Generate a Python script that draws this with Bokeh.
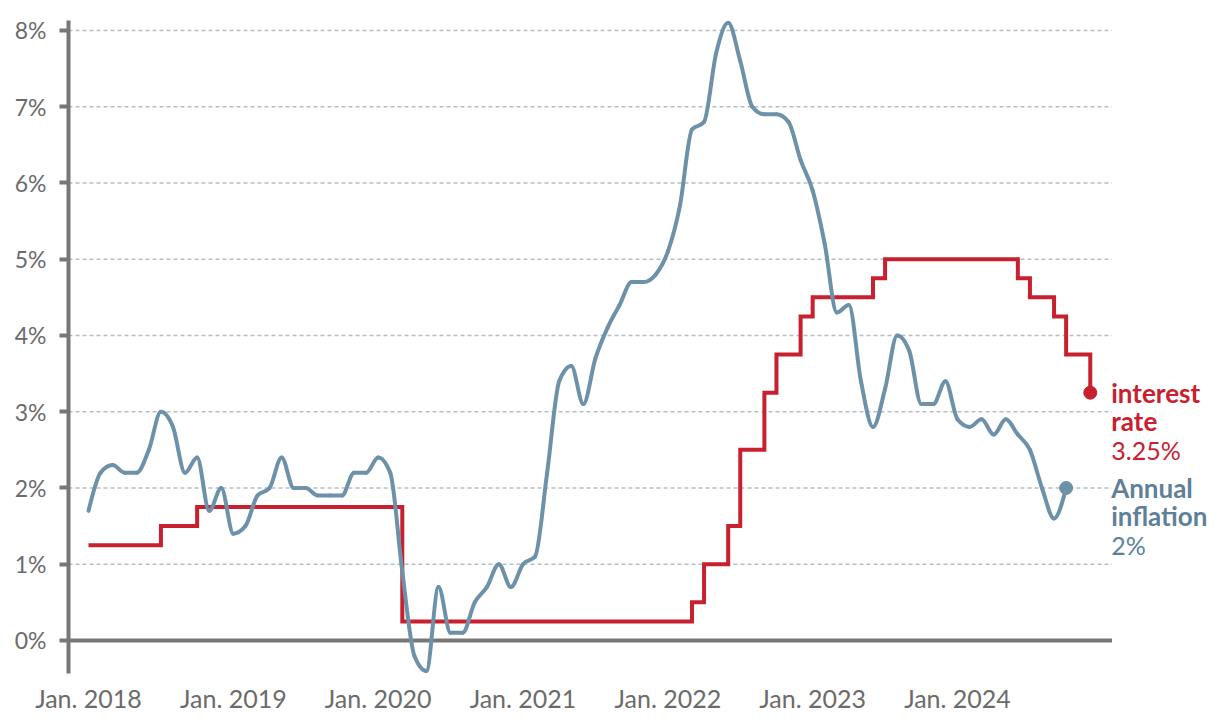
from bokeh.plotting import figure
from bokeh.models import Range1d, FixedTicker, Label
from bokeh.embed import file_html
from bokeh.resources import INLINE

# ---- data (monthly, index 0 = Jan. 2018) ----
inflation = [
    1.7, 2.2, 2.3, 2.2, 2.2, 2.5, 3.0, 2.8, 2.2, 2.4, 1.7, 2.0,   # 2018
    1.4, 1.5, 1.9, 2.0, 2.4, 2.0, 2.0, 1.9, 1.9, 1.9, 2.2, 2.2,   # 2019
    2.4, 2.2, 0.9, -0.2, -0.4, 0.7, 0.1, 0.1, 0.5, 0.7, 1.0, 0.7, # 2020
    1.0, 1.1, 2.2, 3.4, 3.6, 3.1, 3.7, 4.1, 4.4, 4.7, 4.7, 4.8,   # 2021
    5.1, 5.7, 6.7, 6.8, 7.7, 8.1, 7.6, 7.0, 6.9, 6.9, 6.8, 6.3,   # 2022
    5.9, 5.2, 4.3, 4.4, 3.4, 2.8, 3.3, 4.0, 3.8, 3.1, 3.1, 3.4,   # 2023
    2.9, 2.8, 2.9, 2.7, 2.9, 2.7, 2.5, 2.0, 1.6, 2.0,             # 2024
]
interest_rate = [
    1.25, 1.25, 1.25, 1.25, 1.25, 1.25, 1.5, 1.5, 1.5, 1.75, 1.75, 1.75,          # 2018
    1.75, 1.75, 1.75, 1.75, 1.75, 1.75, 1.75, 1.75, 1.75, 1.75, 1.75, 1.75,       # 2019
    1.75, 1.75, 0.25, 0.25, 0.25, 0.25, 0.25, 0.25, 0.25, 0.25, 0.25, 0.25,       # 2020
    0.25, 0.25, 0.25, 0.25, 0.25, 0.25, 0.25, 0.25, 0.25, 0.25, 0.25, 0.25,       # 2021
    0.25, 0.25, 0.5, 1.0, 1.0, 1.5, 2.5, 2.5, 3.25, 3.75, 3.75, 4.25,             # 2022
    4.5, 4.5, 4.5, 4.5, 4.5, 4.75, 5.0, 5.0, 5.0, 5.0, 5.0, 5.0,                  # 2023
    5.0, 5.0, 5.0, 5.0, 5.0, 4.75, 4.5, 4.5, 4.25, 3.75, 3.75, 3.25,              # 2024
]
x_ticks = [0, 12, 24, 36, 48, 60, 72]
x_tick_labels = ["Jan. 2018", "Jan. 2019", "Jan. 2020", "Jan. 2021",
                 "Jan. 2022", "Jan. 2023", "Jan. 2024"]
y_ticks = [0, 1, 2, 3, 4, 5, 6, 7, 8]
y_tick_labels = ["0%", "1%", "2%", "3%", "4%", "5%", "6%", "7%", "8%"]
rate_label = ["interest", "rate", "3.25%"]
infl_label = ["Annual", "inflation", "2%"]

infl_x = list(range(len(inflation)))
rate_x = list(range(len(interest_rate)))

RED = "#c8202f"
BLUE = "#6e91aa"
BLUE_TXT = "#5e8199"
GREY = "#777777"
FONT = "Lato"

X_START, X_END = -1.657, 93.79   # visible month range
GRID_END = 84.8                  # where grid lines / baseline stop

# ---- monotone-x cubic control points (d3.curveMonotoneX) ----
def _sign(v):
    return -1.0 if v < 0 else 1.0

def monotone_beziers(xs, ys):
    n = len(xs)
    t = [0.0] * n
    for i in range(1, n - 1):
        h0 = xs[i] - xs[i - 1]
        h1 = xs[i + 1] - xs[i]
        s0 = (ys[i] - ys[i - 1]) / h0
        s1 = (ys[i + 1] - ys[i]) / h1
        p_ = (s0 * h1 + s1 * h0) / (h0 + h1)
        t[i] = (_sign(s0) + _sign(s1)) * min(abs(s0), abs(s1), 0.5 * abs(p_))
    h = xs[1] - xs[0]
    t[0] = (3 * (ys[1] - ys[0]) / h - t[1]) / 2
    h = xs[-1] - xs[-2]
    t[-1] = (3 * (ys[-1] - ys[-2]) / h - t[-2]) / 2
    seg = dict(x0=[], y0=[], x1=[], y1=[], cx0=[], cy0=[], cx1=[], cy1=[])
    for i in range(n - 1):
        dx = (xs[i + 1] - xs[i]) / 3
        seg["x0"].append(xs[i]); seg["y0"].append(ys[i])
        seg["x1"].append(xs[i + 1]); seg["y1"].append(ys[i + 1])
        seg["cx0"].append(xs[i] + dx); seg["cy0"].append(ys[i] + dx * t[i])
        seg["cx1"].append(xs[i + 1] - dx); seg["cy1"].append(ys[i + 1] - dx * t[i + 1])
    return seg

# ---- figure ----
p = figure(width=1220, height=722, output_backend="svg", toolbar_location=None,
           x_range=Range1d(X_START, X_END), y_range=Range1d(-0.433, 8.131),
           min_border_left=68, min_border_right=0, min_border_top=20,
           min_border_bottom=49)
p.outline_line_color = None
p.background_fill_color = "white"
p.border_fill_color = "white"

# y axis
p.yaxis.ticker = FixedTicker(ticks=y_ticks)
p.yaxis.major_label_overrides = {t: l for t, l in zip(y_ticks, y_tick_labels)}
p.yaxis.axis_line_color = GREY
p.yaxis.axis_line_width = 4
p.yaxis.major_tick_line_color = GREY
p.yaxis.major_tick_line_width = 4
p.yaxis.major_tick_out = 9
p.yaxis.major_tick_in = 0
p.yaxis.minor_tick_line_color = None
p.yaxis.major_label_standoff = 13
p.yaxis.major_label_text_font = FONT
p.yaxis.major_label_text_font_size = "23px"
p.yaxis.major_label_text_color = "#6b6b6b"

# x axis
p.xaxis.ticker = FixedTicker(ticks=x_ticks)
p.xaxis.major_label_overrides = {t: l for t, l in zip(x_ticks, x_tick_labels)}
p.xaxis.axis_line_color = None
p.xaxis.major_tick_line_color = None
p.xaxis.minor_tick_line_color = None
p.xaxis.major_tick_out = 0
p.xaxis.major_tick_in = 0
p.xaxis.major_label_standoff = 9
p.xaxis.major_label_text_font = FONT
p.xaxis.major_label_text_font_size = "25px"
p.xaxis.major_label_text_color = "#6b6b6b"

# grid (drawn as segments so that it stops before the end labels)
p.xgrid.grid_line_color = None
p.ygrid.grid_line_color = None
gy = y_ticks[1:]
p.segment(x0=[X_START] * len(gy), y0=gy, x1=[GRID_END] * len(gy), y1=gy,
          line_color="#b3bec5", line_dash="4 3", line_width=1.5)
# baseline at 0%
p.segment(x0=[X_START], y0=[0], x1=[GRID_END], y1=[0],
          line_color=GREY, line_width=4)

# interest rate (step)
p.step(rate_x, interest_rate, mode="after", line_color=RED, line_width=4,
       line_join="miter")

# inflation (smooth)
seg = monotone_beziers(infl_x, inflation)
p.bezier(line_color=BLUE, line_width=4, line_cap="round", source=seg,
         x0="x0", y0="y0", x1="x1", y1="y1", cx0="cx0", cy0="cy0",
         cx1="cx1", cy1="cy1")

# end dots
p.scatter([rate_x[-1]], [interest_rate[-1]], size=13, color=RED)
p.scatter([infl_x[-1]], [inflation[-1]], size=13, color=BLUE)

# end labels
def add_block(x, y, xoff, lines, color):
    offsets = [0, -28, -57]
    for i, (txt, off) in enumerate(zip(lines, offsets)):
        bold = i < 2
        p.add_layout(Label(x=x, y=y, x_offset=xoff, y_offset=off, text=txt,
                           text_font=FONT,
                           text_font_size="26px" if bold else "25px",
                           text_font_style="bold" if bold else "normal",
                           text_color=color, text_baseline="middle",
                           text_align="left"))

add_block(rate_x[-1], interest_rate[-1], 21, rate_label, RED)
add_block(infl_x[-1], inflation[-1], 45, infl_label, BLUE_TXT)

open("out.html", "w").write(file_html(p, INLINE))
